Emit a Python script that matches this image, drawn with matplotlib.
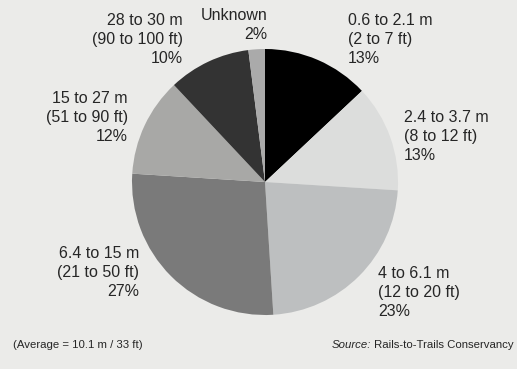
import matplotlib
matplotlib.use("Agg")
import matplotlib.pyplot as plt
from matplotlib import font_manager

# slice data, clockwise from 12 o'clock
labels = [
    "0.6 to 2.1 m\n(2 to 7 ft)\n13%",
    "2.4 to 3.7 m\n(8 to 12 ft)\n13%",
    "4 to 6.1 m\n(12 to 20 ft)\n23%",
    "6.4 to 15 m\n(21 to 50 ft)\n27%",
    "15 to 27 m\n(51 to 90 ft)\n12%",
    "28 to 30 m\n(90 to 100 ft)\n10%",
    "Unknown\n2%",
]
shares = [13, 13, 23, 27, 12, 10, 2]
colors = ["#000000", "#dcdddc", "#bdbfc0", "#7a7a7a", "#a8a8a6", "#333333", "#aaaaaa"]

# label anchor (px from top-left) and alignment
label_pos = [(348, 13, "left"), (404, 110, "left"), (378, 266, "left"),
             (139, 246, "right"), (128, 91, "right"), (183, 13, "right"),
             (267, 8, "right")]

avail = {f.name for f in font_manager.fontManager.ttflist}
family = next((f for f in ["Liberation Sans Narrow", "DejaVu Sans Condensed", "Liberation Sans"]
               if f in avail), "DejaVu Sans")
plt.rcParams["font.family"] = family

W, H = 517, 369
bg = "#ebebe9"
fig = plt.figure(figsize=(W / 100, H / 100), dpi=100)
fig.patch.set_facecolor(bg)
ax = fig.add_axes([0, 0, 1, 1])
ax.set_facecolor(bg)

ax.pie(shares, colors=colors, startangle=90, counterclock=False,
       center=(265, H - 182), radius=133, frame=True,
       wedgeprops={"linewidth": 0})
ax.set_xlim(0, W)
ax.set_ylim(0, H)
ax.set_aspect("equal")
ax.axis("off")

for lab, (x, y, ha) in zip(labels, label_pos):
    ax.text(x, H - y, lab, ha=ha, va="top", multialignment=ha,
            fontsize=11.5, color="#262626", linespacing=1.32)

ax.text(13, H - 345, "(Average = 10.1 m / 33 ft)", ha="left", va="center",
        fontsize=8.2, color="#262626")
t1 = ax.text(W - 3, H - 345, " Rails-to-Trails Conservancy", ha="right", va="center",
             fontsize=8.2, color="#262626")
fig.canvas.draw()
bb = t1.get_window_extent().transformed(ax.transData.inverted())
ax.text(bb.x0, H - 345, "Source:", ha="right", va="center", fontsize=8.2,
        style="italic", color="#262626")

fig.savefig("out.png", dpi=100, facecolor=bg)
